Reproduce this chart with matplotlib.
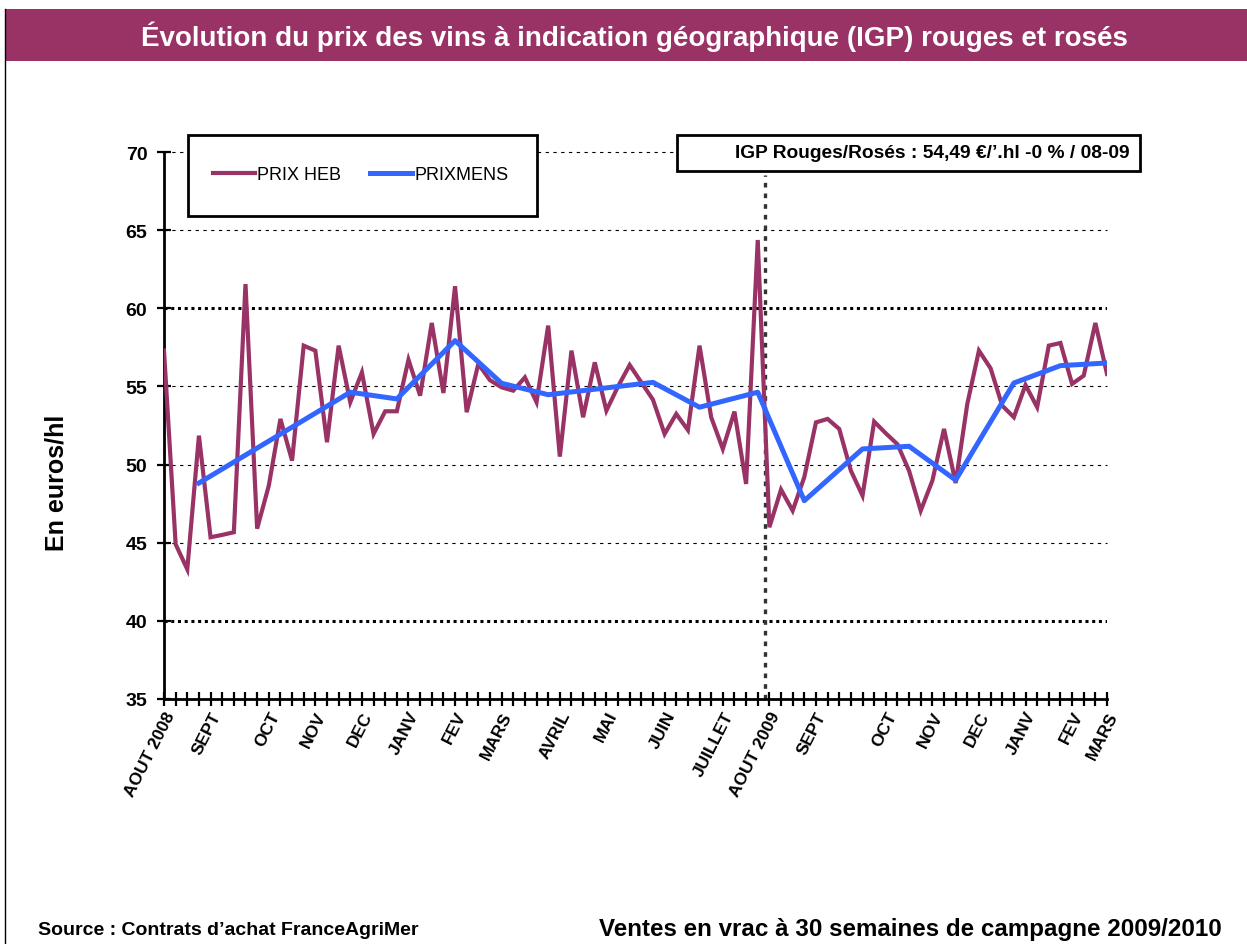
import numpy as np
import matplotlib.pyplot as plt
from matplotlib.patches import Rectangle
from matplotlib.lines import Line2D

plt.rcParams['font.family'] = ['Liberation Sans', 'DejaVu Sans']

# prix hebdomadaires (euros/hl), campagne 2008/09 (52 semaines) puis 2009/10 (30 semaines)
prix_heb = [57.3, 44.9, 43.3, 51.85, 45.35, 45.5, 45.67, 61.55, 45.9, 48.65,
            52.92, 50.25, 57.61, 57.29, 51.43, 57.61, 53.99, 55.9, 51.96, 53.41,
            53.41, 56.71, 54.41, 59.06, 54.58, 61.41, 53.35, 56.44, 55.4, 54.94,
            54.73, 55.58, 53.99, 58.89, 50.51, 57.29, 53.03, 56.54, 53.45, 55.0,
            56.37, 55.26, 54.15, 51.96, 53.24, 52.21, 57.61, 53.03, 51.0, 53.39,
            48.76, 64.37, 45.99, 48.4, 47.05, 49.2, 52.7, 52.92, 52.28, 49.61,
            48.01, 52.75, 52.0, 51.3, 49.6, 47.05, 48.97, 52.28, 48.82, 53.88,
            57.29, 56.16, 53.77, 53.03, 55.09, 53.67, 57.61, 57.78, 55.16, 55.69,
            59.06, 55.8]
semaines = np.arange(len(prix_heb))

# prix mensuels
mens_semaine = [3, 16, 20, 25, 29, 33, 42, 46, 51, 55, 60, 64, 68, 73, 77, 81]
prix_mens = [48.82, 54.63, 54.2, 57.93, 55.2, 54.47, 55.26, 53.67, 54.63,
             47.69, 51.0, 51.17, 49.01, 55.22, 56.33, 56.5]

mois_pos = [0, 4, 9, 13, 17, 21, 25, 29, 34, 38, 43, 48, 52, 56, 62, 66, 70, 74, 78, 81]
mois_labels = ["AOUT 2008", "SEPT", "OCT", "NOV", "DEC", "JANV", "FEV", "MARS",
               "AVRIL", "MAI", "JUIN", "JUILLET", "AOUT 2009", "SEPT", "OCT",
               "NOV", "DEC", "JANV", "FEV", "MARS"]

yticks = [35, 40, 45, 50, 55, 60, 65, 70]

W, H = 1247, 945
fig = plt.figure(figsize=(W / 100, H / 100), dpi=100)

# bandeau titre + bord gauche
fig.patches.append(Rectangle((5 / W, 1 - 62 / H), 1, 52 / H, transform=fig.transFigure,
                             facecolor='#993366', edgecolor='none', zorder=0))
fig.lines.append(Line2D([5 / W, 5 / W], [0, 1 - 10 / H], transform=fig.transFigure,
                        color='black', lw=1))
fig.text(634 / W, 1 - 37 / H, "Évolution du prix des vins à indication géographique (IGP) rouges et rosés",
         color='white', fontsize=20, fontweight='bold', ha='center', va='center')

ax = fig.add_axes([164 / W, 1 - 700 / H, (1107 - 164) / W, (700 - 153) / H])

# grille
for v in [45, 50, 55, 65, 70]:
    ax.axhline(v, color='black', lw=0.8, ls=(0, (3, 4)), zorder=1, clip_on=False)
for v in [40, 60]:
    ax.axhline(v, color='black', lw=2.2, ls=(0, (1, 1.2)), zorder=1)
ax.axvline(51.6, ymax=(700 - 176) / 547, color='#333333', lw=2.4, ls=(0, (1.4, 1.8)), zorder=1)

ax.plot(semaines, prix_heb, color='#993366', lw=3, zorder=3, solid_joinstyle='miter')
ax.plot(mens_semaine, prix_mens, color='#3366FF', lw=3.6, zorder=4)

ax.set_xlim(0, 81)
ax.set_ylim(35, 70)
ax.set_yticks(yticks)
ax.set_yticklabels([str(v) for v in yticks], fontsize=14, fontweight='bold')
ax.set_xticks(mois_pos)
ax.set_xticklabels(mois_labels, fontsize=12.5, fontweight='bold', rotation=63,
                   ha='right', rotation_mode='anchor')
ax.set_xticks(semaines, minor=True)
ax.tick_params(axis='both', which='both', direction='inout', length=10, width=1.6)
ax.tick_params(axis='y', pad=7)
ax.tick_params(axis='x', pad=2)
for s in ['top', 'right']:
    ax.spines[s].set_visible(False)
for s in ['left', 'bottom']:
    ax.spines[s].set_linewidth(2)
ax.set_facecolor('none')

fig.text(56 / W, 1 - 483 / H, "En euros/hl", rotation=90, fontsize=18, fontweight='bold',
         ha='center', va='center')

# légende
fig.patches.append(Rectangle((188 / W, 1 - 217 / H), (537 - 188) / W, 81 / H,
                             transform=fig.transFigure, facecolor='white',
                             edgecolor='black', lw=2, zorder=2))
h1 = Line2D([], [], color='#993366', lw=3)
h2 = Line2D([], [], color='#3366FF', lw=3.6)
fig.legend([h1, h2], ["PRIX HEB", "PRIXMENS"], loc='center left',
           bbox_to_anchor=(197 / W, 1 - 176 / H), ncol=2, frameon=False,
           fontsize=13, handlelength=2.3, handletextpad=0.15, columnspacing=1.6)

# encadré
fig.patches.append(Rectangle((677 / W, 1 - 172 / H), (1140 - 677) / W, 36 / H,
                             transform=fig.transFigure, facecolor='white',
                             edgecolor='black', lw=2, zorder=2))
fig.text(1130 / W, 1 - 154 / H, "IGP Rouges/Rosés : 54,49 €/’.hl -0 % / 08-09",
         fontsize=13.8, fontweight='bold', ha='right', va='center', zorder=3)

fig.text(38 / W, 1 - 931 / H, "Source : Contrats d’achat FranceAgriMer",
         fontsize=14, fontweight='bold', ha='left', va='center')
fig.text(1222 / W, 1 - 930 / H, "Ventes en vrac à 30 semaines de campagne 2009/2010",
         fontsize=17.4, fontweight='bold', ha='right', va='center')

fig.savefig("out.png", dpi=100)
